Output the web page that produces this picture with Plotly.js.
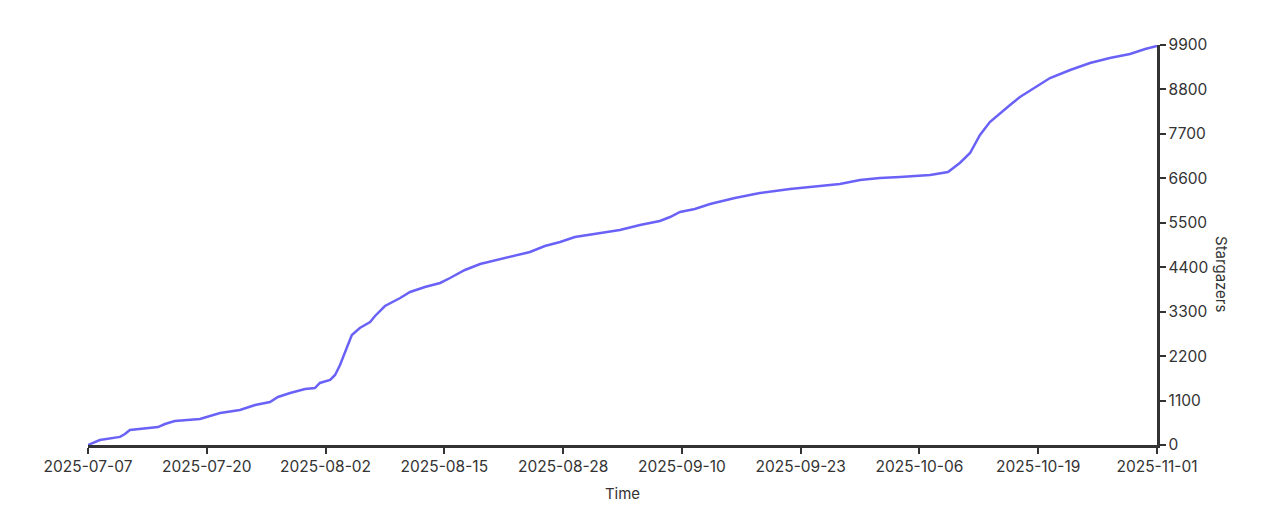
<!DOCTYPE html>
<html>
<head>
<meta charset="utf-8">
<script src="https://cdn.plot.ly/plotly-3.0.1.min.js"></script>
<style>
html,body{margin:0;padding:0;background:#fff;}
#chart{width:1276px;height:524px;}
</style>
</head>
<body>
<div id="chart"></div>
<script>
const dates = [
  "2025-07-07 00:00","2025-07-08 07:00","2025-07-10 12:00","2025-07-11 01:00","2025-07-11 14:00",
  "2025-07-13 06:00","2025-07-14 16:00","2025-07-15 10:00","2025-07-16 12:00","2025-07-19 06:00",
  "2025-07-20 08:00","2025-07-21 11:00","2025-07-23 15:00","2025-07-25 07:00","2025-07-26 22:00",
  "2025-07-27 19:00","2025-07-29 03:00","2025-07-30 18:00","2025-07-31 20:00","2025-08-01 09:00",
  "2025-08-02 12:00","2025-08-03 01:00","2025-08-03 14:00","2025-08-04 11:00","2025-08-04 21:00",
  "2025-08-05 18:00","2025-08-06 21:00","2025-08-07 10:00","2025-08-08 12:00","2025-08-10 04:00",
  "2025-08-11 06:00","2025-08-12 21:00","2025-08-14 13:00","2025-08-15 15:00","2025-08-17 06:00",
  "2025-08-18 22:00","2025-08-21 02:00","2025-08-24 09:00","2025-08-26 00:00","2025-08-27 16:00",
  "2025-08-29 07:00","2025-09-01 01:00","2025-09-03 05:00","2025-09-05 10:00","2025-09-07 14:00",
  "2025-09-08 17:00","2025-09-09 19:00","2025-09-11 10:00","2025-09-13 02:00","2025-09-15 19:00",
  "2025-09-18 13:00","2025-09-21 20:00","2025-09-24 00:00","2025-09-27 07:00","2025-09-29 12:00",
  "2025-10-01 16:00","2025-10-03 21:00","2025-10-07 04:00","2025-10-09 03:00","2025-10-10 10:00",
  "2025-10-11 13:00","2025-10-12 15:00","2025-10-13 17:00","2025-10-14 20:00","2025-10-15 22:00",
  "2025-10-17 00:00","2025-10-18 15:00","2025-10-20 07:00","2025-10-22 12:00","2025-10-24 16:00",
  "2025-10-26 20:00","2025-10-29 01:00","2025-10-30 17:00","2025-11-01 00:00"
];
const stargazers = [
  0,124,200,270,370,
  420,445,520,594,643,
  718,790,866,990,1064,
  1188,1287,1386,1410,1535,
  1609,1733,1980,2475,2722,
  2896,3044,3193,3440,3638,
  3787,3910,4010,4133,4331,
  4480,4603,4776,4925,5024,
  5148,5247,5321,5445,5544,
  5643,5767,5841,5965,6113,
  6237,6336,6386,6460,6559,
  6608,6633,6683,6757,6980,
  7227,7673,7994,8217,8415,
  8613,8836,9083,9281,9454,
  9578,9677,9801,9876
];
const xRange = ["2025-07-07", "2025-11-01"];
const yRange = [0, 9900];
const xTitle = "Time";
const yTitle = "Stargazers";

const axisColor = "#333333";
const fontFam = "Inter, 'Liberation Sans', sans-serif";

const trace = {
  x: dates, y: stargazers, type: "scatter", mode: "lines",
  line: {color: "#6a62f7", width: 2.5},
  hoverinfo: "x+y"
};

const layout = {
  width: 1276, height: 524,
  margin: {l: 88, r: 119, t: 45, b: 79},
  paper_bgcolor: "#fff", plot_bgcolor: "#fff",
  showlegend: false,
  font: {family: fontFam, size: 15, color: axisColor},
  xaxis: {
    type: "date", range: xRange,
    tick0: "2025-07-07", dtick: 13 * 86400000,
    tickformat: "%Y-%m-%d",
    showgrid: false, zeroline: false,
    showline: true, linecolor: axisColor, linewidth: 2.5,
    ticks: "outside", ticklen: 6, tickwidth: 2, tickcolor: axisColor,
    tickfont: {family: fontFam, size: 15.5, color: axisColor},
    title: {text: xTitle, font: {family: fontFam, size: 15, color: axisColor}, standoff: 14}
  },
  yaxis: {
    range: yRange, side: "right",
    tick0: 0, dtick: 1100, tickformat: "d",
    showgrid: false, zeroline: false,
    showline: true, linecolor: axisColor, linewidth: 2.5,
    ticks: "outside", ticklen: 6, tickwidth: 2, tickcolor: axisColor,
    tickfont: {family: fontFam, size: 15.5, color: axisColor}
  },
  annotations: [{
    text: yTitle, xref: "paper", yref: "paper",
    x: 1.0608, y: 0.425, showarrow: false, textangle: 90,
    xanchor: "center", yanchor: "middle",
    font: {family: fontFam, size: 15, color: axisColor}
  }]
};

Plotly.newPlot("chart", [trace], layout, {displayModeBar: false, staticPlot: true});
</script>
</body>
</html>
